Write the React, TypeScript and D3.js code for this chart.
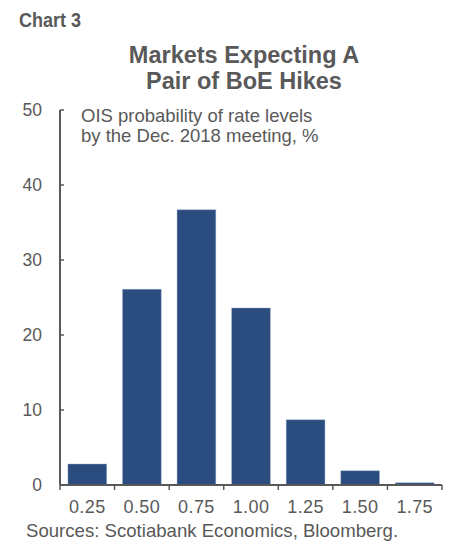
import React from "react";
import * as d3 from "d3";

const rateLevels = ["0.25", "0.50", "0.75", "1.00", "1.25", "1.50", "1.75"];
const probabilities = [2.8, 26.1, 36.7, 23.6, 8.7, 1.9, 0.3];
const yTicks = [0, 10, 20, 30, 40, 50];

const W = 451;
const H = 544;
const margin = { left: 60, right: 9, top: 110, bottom: 59 };
const textColor = "#595959";
const barColor = "#2B4C7E";
const font = "Arial, 'Liberation Sans', sans-serif";

export default function App() {
  const x = d3
    .scaleBand<string>()
    .domain(rateLevels)
    .range([margin.left, W - margin.right])
    .paddingInner(0.29)
    .paddingOuter(0.145);
  const y = d3.scaleLinear().domain([0, 50]).range([H - margin.bottom, margin.top]);
  const step = x.step();
  const x0 = margin.left;
  const x1 = W - margin.right;
  const yBase = y(0);

  return (
    <svg
      width={W}
      height={H}
      style={{ position: "absolute", left: 0, top: 0, background: "#fff" }}
      fontFamily={font}
    >
      <text
        x={19}
        y={27}
        fontSize={20}
        fontWeight="bold"
        fill={textColor}
        fontFamily="'Liberation Sans Narrow', 'Arial Narrow', sans-serif"
        textLength={62}
        lengthAdjust="spacingAndGlyphs"
      >
        Chart 3
      </text>
      <text x={244} y={62.5} fontSize={23.5} fontWeight="bold" fill={textColor} textAnchor="middle">
        Markets Expecting A
      </text>
      <text x={244} y={89} fontSize={23.5} fontWeight="bold" fill={textColor} textAnchor="middle">
        Pair of BoE Hikes
      </text>

      {probabilities.map((v, i) => (
        <rect
          key={rateLevels[i]}
          x={x(rateLevels[i])}
          y={y(v)}
          width={x.bandwidth()}
          height={yBase - y(v)}
          fill={barColor}
          stroke="#9DB3D1"
          strokeOpacity={0.5}
          strokeWidth={0.8}
        />
      ))}

      {/* value axis */}
      <line x1={x0} x2={x0} y1={y(50)} y2={yBase} stroke={textColor} strokeWidth={2} />
      {yTicks.map((t) => (
        <g key={t}>
          <line x1={x0} x2={x0 + 4} y1={y(t)} y2={y(t)} stroke={textColor} strokeWidth={1.5} />
          <text x={42} y={y(t) + 6.3} fontSize={17.5} fill={textColor} textAnchor="end">
            {t}
          </text>
        </g>
      ))}

      {/* category axis */}
      <line x1={x0} x2={x1} y1={yBase} y2={yBase} stroke={textColor} strokeWidth={2} />
      {d3.range(rateLevels.length + 1).map((i) => (
        <line
          key={i}
          x1={x0 + i * step}
          x2={x0 + i * step}
          y1={yBase}
          y2={yBase + 5}
          stroke={textColor}
          strokeWidth={1.5}
        />
      ))}
      {rateLevels.map((c) => (
        <text
          key={c}
          x={(x(c) ?? 0) + x.bandwidth() / 2}
          y={513}
          fontSize={18}
          fill={textColor}
          textAnchor="middle"
          letterSpacing={0.4}
        >
          {c}
        </text>
      ))}

      <text x={81} y={121.5} fontSize={18.5} fill={textColor}>
        OIS probability of rate levels
      </text>
      <text x={81} y={141.5} fontSize={18.5} fill={textColor}>
        by the Dec. 2018 meeting, %
      </text>

      <text x={26} y={536.5} fontSize={18.6} fill={textColor}>
        Sources: Scotiabank Economics, Bloomberg.
      </text>
    </svg>
  );
}
